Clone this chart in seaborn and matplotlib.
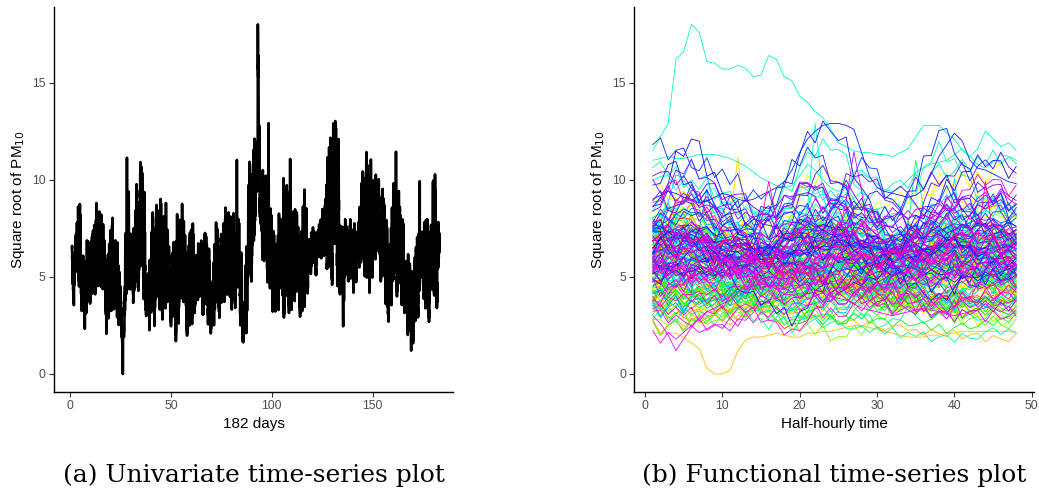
import colorsys
import numpy as np
import pandas as pd
import matplotlib
matplotlib.use("Agg")
import matplotlib.pyplot as plt
import seaborn as sns

# ---------------- data ----------------
n_days = 182
n_half = 48

# daily minimum / maximum of sqrt(PM10)
day_low = [
    3.7, 4.6, 4.9, 4.6, 3.6, 2.3, 2.4, 2.7, 3.8, 3.9,
    3.6, 4.2, 4.8, 5.0, 4.6, 4.0, 3.2, 2.3, 2.2, 3.3,
    3.6, 3.4, 3.0, 2.2, 1.8, 0.0, 2.5, 4.0, 4.6, 4.2,
    3.6, 4.1, 4.5, 4.8, 4.6, 4.0, 3.2, 2.8, 2.5, 2.6,
    2.7, 3.4, 3.3, 3.5, 3.2, 4.0, 3.4, 3.3, 2.9, 2.5,
    2.4, 1.8, 3.0, 3.6, 4.0, 3.2, 2.6, 2.2, 1.7, 2.7,
    3.4, 3.6, 3.9, 3.7, 3.2, 3.5, 3.0, 2.6, 2.3, 1.9,
    2.6, 3.2, 3.4, 3.1, 3.2, 3.8, 4.3, 4.6, 3.9, 3.0,
    3.6, 4.2, 3.8, 2.6, 1.8, 1.2, 2.4, 4.3, 5.0, 5.6,
    6.0, 6.4, 11.0, 6.2, 5.9, 5.4, 5.0, 4.8, 3.8, 3.3,
    3.5, 3.6, 3.4, 4.0, 3.6, 3.2, 3.1, 3.3, 3.8, 4.3,
    3.9, 3.8, 3.6, 3.2, 2.3, 3.0, 4.4, 5.0, 5.2, 5.5,
    5.2, 5.6, 5.8, 6.0, 6.2, 6.0, 5.3, 5.0, 4.9, 5.2,
    5.5, 4.7, 4.5, 3.6, 2.8, 4.6, 4.9, 5.0, 4.5, 4.3,
    4.9, 5.2, 5.5, 5.3, 5.6, 5.1, 4.1, 4.3, 5.4, 5.8,
    6.0, 5.9, 5.6, 5.0, 4.4, 3.7, 3.0, 3.0, 3.7, 4.3,
    4.6, 4.3, 4.0, 3.6, 3.4, 2.8, 2.1, 1.8, 1.2, 1.8,
    2.2, 3.0, 3.4, 3.6, 3.8, 3.0, 2.9, 3.6, 3.9, 4.2,
    3.7, 3.6,
]
day_high = [
    6.7, 7.0, 7.6, 8.7, 8.0, 7.2, 5.8, 6.9, 6.6, 6.9,
    7.2, 7.8, 8.6, 9.4, 8.3, 7.7, 6.9, 6.0, 6.4, 7.6,
    8.0, 7.9, 6.8, 5.2, 4.6, 4.2, 7.0, 10.6, 9.2, 8.0,
    7.4, 8.3, 9.8, 10.5, 10.4, 9.3, 7.2, 6.0, 5.9, 7.2,
    8.3, 8.4, 7.9, 8.6, 8.7, 9.2, 8.8, 7.4, 6.7, 6.0,
    6.5, 6.8, 8.0, 9.2, 8.8, 7.9, 6.8, 6.4, 7.0, 7.6,
    7.0, 6.9, 6.8, 6.6, 6.9, 7.1, 6.8, 6.4, 5.8, 5.6,
    6.7, 7.7, 7.6, 7.0, 6.9, 7.9, 8.4, 9.3, 8.0, 7.0,
    8.3, 10.9, 7.8, 6.2, 5.0, 4.6, 6.6, 9.6, 10.9, 11.2,
    11.8, 12.0, 18.0, 10.7, 10.5, 9.6, 10.4, 12.5, 8.2, 7.3,
    7.0, 7.6, 8.3, 8.0, 9.7, 8.6, 9.4, 9.0, 10.7, 9.6,
    8.6, 8.3, 7.6, 7.2, 8.2, 10.0, 8.5, 7.5, 7.3, 7.5,
    7.4, 7.3, 7.6, 8.0, 8.4, 9.8, 11.0, 11.5, 12.2, 12.9,
    12.7, 11.2, 11.9, 9.0, 7.6, 7.9, 7.6, 7.8, 7.3, 7.5,
    7.3, 7.9, 8.6, 9.8, 10.6, 11.0, 10.3, 9.8, 10.8, 11.2,
    10.3, 9.9, 9.7, 9.3, 8.8, 7.8, 7.3, 7.8, 8.7, 9.8,
    11.7, 9.2, 8.3, 7.9, 7.7, 6.7, 6.2, 5.6, 5.3, 5.8,
    6.3, 7.2, 10.5, 8.3, 7.7, 7.8, 8.0, 7.4, 9.6, 10.2,
    9.3, 9.3,
]

# typical intraday profiles (0 = daily low, 1 = daily high)
profile_morning = [0.35, 0.32, 0.30, 0.28, 0.25, 0.22, 0.20, 0.18, 0.17, 0.16,
                   0.18, 0.22, 0.28, 0.35, 0.45, 0.55, 0.65, 0.75, 0.85, 0.95,
                   1.0, 0.96, 0.90, 0.82, 0.74, 0.66, 0.60, 0.55, 0.50, 0.46,
                   0.42, 0.40, 0.38, 0.40, 0.44, 0.50, 0.56, 0.62, 0.66, 0.64,
                   0.60, 0.55, 0.50, 0.46, 0.42, 0.40, 0.38, 0.36]
profile_falling = [1.0, 0.95, 0.92, 0.88, 0.85, 0.82, 0.78, 0.80, 0.76, 0.72,
                   0.70, 0.66, 0.62, 0.60, 0.58, 0.55, 0.52, 0.50, 0.48, 0.50,
                   0.46, 0.42, 0.40, 0.38, 0.36, 0.34, 0.30, 0.28, 0.26, 0.25,
                   0.22, 0.20, 0.18, 0.20, 0.16, 0.14, 0.12, 0.10, 0.08, 0.10,
                   0.06, 0.05, 0.04, 0.03, 0.02, 0.01, 0.0, 0.02]
profile_rising = [0.05, 0.0, 0.04, 0.08, 0.06, 0.10, 0.12, 0.15, 0.14, 0.18,
                  0.22, 0.20, 0.25, 0.28, 0.32, 0.30, 0.35, 0.40, 0.44, 0.42,
                  0.48, 0.52, 0.50, 0.55, 0.58, 0.62, 0.60, 0.64, 0.68, 0.66,
                  0.70, 0.74, 0.72, 0.76, 0.80, 0.78, 0.82, 0.86, 0.84, 0.88,
                  0.92, 0.90, 0.94, 0.96, 0.98, 1.0, 0.97, 0.95]
profile_double = [0.30, 0.28, 0.26, 0.25, 0.24, 0.22, 0.20, 0.22, 0.24, 0.26,
                  0.25, 0.28, 0.30, 0.34, 0.38, 0.42, 0.48, 0.55, 0.65, 0.78,
                  0.90, 0.97, 1.0, 0.98, 0.95, 0.85, 0.70, 0.55, 0.45, 0.40,
                  0.38, 0.36, 0.40, 0.48, 0.60, 0.75, 0.88, 0.95, 0.92, 0.85,
                  0.75, 0.65, 0.58, 0.52, 0.48, 0.45, 0.42, 0.40]
profile_dip = [0.80, 0.85, 0.90, 0.88, 0.82, 0.78, 0.72, 0.68, 0.62, 0.55,
               0.50, 0.45, 0.40, 0.35, 0.30, 0.26, 0.22, 0.18, 0.15, 0.12,
               0.10, 0.08, 0.06, 0.05, 0.0, 0.04, 0.08, 0.12, 0.16, 0.20,
               0.25, 0.30, 0.36, 0.42, 0.48, 0.55, 0.62, 0.68, 0.74, 0.80,
               0.85, 0.90, 0.95, 1.0, 0.96, 0.92, 0.88, 0.85]
profile_early = [0.50, 0.62, 0.75, 0.88, 0.96, 1.0, 0.94, 0.85, 0.75, 0.66,
                 0.58, 0.52, 0.48, 0.45, 0.42, 0.40, 0.38, 0.36, 0.34, 0.32,
                 0.30, 0.28, 0.26, 0.24, 0.22, 0.20, 0.18, 0.16, 0.15, 0.14,
                 0.12, 0.10, 0.09, 0.08, 0.06, 0.05, 0.04, 0.03, 0.02, 0.0,
                 0.02, 0.04, 0.06, 0.08, 0.10, 0.12, 0.14, 0.16]
profile_wave = [0.40, 0.45, 0.52, 0.60, 0.66, 0.70, 0.68, 0.62, 0.55, 0.48,
                0.42, 0.36, 0.30, 0.25, 0.20, 0.15, 0.10, 0.05, 0.0, 0.06,
                0.14, 0.25, 0.38, 0.52, 0.66, 0.80, 0.92, 1.0, 0.95, 0.86,
                0.75, 0.64, 0.52, 0.42, 0.34, 0.28, 0.24, 0.22, 0.26, 0.32,
                0.40, 0.48, 0.56, 0.62, 0.66, 0.64, 0.60, 0.58]
profile_flat = [0.55, 0.60, 0.52, 0.48, 0.56, 0.62, 0.58, 0.50, 0.45, 0.52,
                0.60, 0.66, 0.58, 0.50, 0.44, 0.40, 0.48, 0.56, 0.64, 0.70,
                0.62, 0.54, 0.50, 0.58, 0.66, 0.72, 0.64, 0.56, 0.48, 0.42,
                0.38, 0.44, 0.52, 0.60, 0.55, 0.48, 0.44, 0.50, 0.58, 0.62,
                0.56, 0.50, 0.46, 0.52, 0.58, 0.54, 0.50, 0.52]
profiles = [profile_morning, profile_falling, profile_rising, profile_double,
            profile_dip, profile_early, profile_flat, profile_wave]

# days whose range comes from a short spike; value = half-hour of the spike
spike_position = {28: 12, 82: 35, 98: 22, 105: 40, 116: 8, 161: 27, 173: 16, 179: 44}
spike_base = [0.25, 0.28, 0.30, 0.26, 0.22, 0.20, 0.24, 0.28, 0.32, 0.30,
              0.26, 0.22, 0.18, 0.15, 0.12, 0.10, 0.14, 0.18, 0.22, 0.26,
              0.30, 0.34, 0.36, 0.38, 0.40, 0.42, 0.40, 0.38, 0.36, 0.34,
              0.32, 0.30, 0.28, 0.30, 0.33, 0.36, 0.38, 0.36, 0.34, 0.32,
              0.30, 0.28, 0.26, 0.28, 0.30, 0.32, 0.30, 0.28]
spike_shape = [0.55, 1.0, 0.6]

# short-scale wiggle read as typical half-hourly jitter
wiggle = [0.6, -0.4, 0.9, -0.8, 0.3, -0.2, 0.7, -0.9, 0.1, 0.5,
          -0.6, 0.8, -0.3, -0.7, 0.4, 0.9, -0.5, 0.2, -0.8, 0.6,
          0.0, -0.4, 0.7, -0.6, 0.3, 0.8, -0.9, 0.5, -0.1, -0.5,
          0.9, -0.7, 0.2, 0.4, -0.8, 0.6, -0.3, 0.1, 0.7, -0.6,
          0.5, -0.9, 0.3, 0.8, -0.4, -0.2, 0.6, -0.5]

# individually traced curves (day number -> 48 half-hourly values)
curve_day26 = [2.1, 2.1, 2.1, 2.1, 1.9, 1.6, 1.3, 0.3, 0.0, 0.0,
               0.2, 1.2, 1.75, 1.9, 1.9, 2.0, 2.1, 2.0, 1.9, 1.9,
               2.1, 2.1, 2.2, 2.2, 2.3, 2.4, 2.5, 2.5, 2.4, 2.3,
               2.2, 2.1, 2.0, 1.9, 1.9, 1.9, 2.0, 2.0, 2.1, 2.1,
               2.2, 2.2, 2.2, 2.2, 2.2, 2.2, 2.2, 2.2]
curve_day92 = [11.0, 11.1, 11.2, 11.1, 11.1, 11.2, 11.3, 11.3, 11.3, 11.2,
               11.1, 10.9, 10.7, 10.4, 10.1, 9.9, 9.7, 9.6, 9.7, 10.2,
               10.8, 10.5, 10.0, 9.6, 9.4, 9.6, 10.0, 10.3, 10.1, 9.8,
               9.5, 9.4, 9.6, 10.0, 10.4, 10.6, 10.8, 10.9, 11.0, 11.3,
               11.6, 11.2, 10.8, 10.6, 10.9, 11.3, 11.2, 11.0]
curve_day93 = [11.5, 12.2, 12.9, 16.2, 16.6, 18.0, 17.6, 16.1, 16.0, 15.7,
               15.7, 15.9, 15.75, 15.3, 15.4, 16.4, 16.2, 15.3, 15.1, 14.3,
               14.0, 13.5, 13.2, 12.6, 11.9, 11.7, 11.5, 11.4, 11.4, 11.3,
               11.3, 11.2, 11.4, 11.6, 12.2, 12.8, 12.8, 12.8, 12.4, 12.1,
               11.5, 11.2, 11.6, 12.5, 12.1, 11.7, 11.9, 11.5]
curve_day130 = [9.0, 9.2, 9.4, 9.3, 9.1, 9.0, 8.8, 8.9, 9.1, 9.3,
                9.2, 9.0, 8.9, 9.0, 9.2, 9.4, 9.6, 9.9, 10.5, 11.4,
                12.1, 12.5, 12.8, 12.9, 12.9, 12.8, 12.6, 11.4, 10.2, 9.6,
                9.4, 9.3, 9.2, 9.1, 9.2, 9.5, 10.3, 11.2, 11.8, 12.4,
                12.0, 11.0, 10.6, 10.5, 10.3, 10.1, 9.9, 9.8]
curve_day169 = [3.0, 2.6, 2.0, 1.2, 1.8, 2.4, 2.9, 3.2, 3.4, 3.6,
                3.8, 4.2, 4.6, 5.0, 5.3, 5.2, 5.0, 4.8, 4.6, 4.5,
                4.4, 4.3, 4.2, 4.0, 3.9, 3.8, 3.6, 3.4, 3.3, 3.2,
                3.1, 3.0, 3.1, 3.2, 3.3, 3.4, 3.3, 3.2, 3.1, 3.0,
                3.1, 3.2, 3.3, 3.4, 3.5, 3.6, 3.7, 3.8]
traced_curves = {26: curve_day26, 92: curve_day92, 93: curve_day93,
                 130: curve_day130, 169: curve_day169}

# ---------------- assemble the long table ----------------
rows = []
for d in range(1, n_days + 1):
    lo, hi = day_low[d - 1], day_high[d - 1]
    if d in traced_curves:
        vals = list(traced_curves[d])
    else:
        if d in spike_position:
            prof = list(spike_base)
            p = spike_position[d] - 1
            for k, s in zip((p - 1, p, p + 1), spike_shape):
                prof[k] = s
        else:
            prof = profiles[d % len(profiles)]
        shift = (d * 7) % n_half
        jit = wiggle[shift:] + wiggle[:shift]
        vals = [lo + (hi - lo) * (pr + 0.09 * j) for pr, j in zip(prof, jit)]
    for t in range(1, n_half + 1):
        rows.append((d, t, vals[t - 1]))
df = pd.DataFrame(rows, columns=["day", "half_hour", "value"])
df["time"] = df["day"] + (df["half_hour"] - 1) / n_half
df["day_label"] = df["day"].map(lambda d: f"d{d:03d}")

day_labels = [f"d{d:03d}" for d in range(1, n_days + 1)]
palette = {lab: colorsys.hsv_to_rgb((d - 1) / 200.0, 1.0, 1.0)
           for d, lab in zip(range(1, n_days + 1), day_labels)}

# ---------------- plot ----------------
sns.set_theme(style="ticks")
plt.rcParams["font.family"] = ["Liberation Sans", "DejaVu Sans"]

fig = plt.figure(figsize=(10.39, 4.95), dpi=100)
ax1 = fig.add_axes([0.052, 0.208, 0.384, 0.778])
ax2 = fig.add_axes([0.6105, 0.208, 0.3845, 0.778])

sns.lineplot(data=df, x="time", y="value", ax=ax1, color="black",
             linewidth=1.9, estimator=None, sort=False)

sns.lineplot(data=df, x="half_hour", y="value", hue="day_label",
             hue_order=day_labels, palette=palette, units="day_label",
             estimator=None, legend=False, linewidth=0.6, ax=ax2)

ylabel = "Square root of PM$_{10}$"
for ax, xlab, xlim, xticks in [
    (ax1, "182 days", (-7.9, 189.8), [0, 50, 100, 150]),
    (ax2, "Half-hourly time", (-1.38, 50.26), [0, 10, 20, 30, 40, 50]),
]:
    ax.set_xlim(*xlim)
    ax.set_ylim(-0.93, 18.9)
    ax.set_xticks(xticks)
    ax.set_yticks([0, 5, 10, 15])
    ax.set_xlabel(xlab, fontsize=11, color="black", labelpad=3)
    ax.set_ylabel(ylabel, fontsize=11, color="black", labelpad=4)
    for s in ["top", "right"]:
        ax.spines[s].set_visible(False)
    for s in ["left", "bottom"]:
        ax.spines[s].set_color("black")
        ax.spines[s].set_linewidth(1.0)
    ax.tick_params(axis="both", length=3.5, width=0.8, color="#333333",
                   labelsize=8.8, labelcolor="#4D4D4D", pad=2.5)

fig.text(0.244, 1 - 482 / 495, "(a) Univariate time-series plot",
         ha="center", va="baseline", fontsize=18, family="DejaVu Serif",
         color="black")
fig.text(0.8025, 1 - 482 / 495, "(b) Functional time-series plot",
         ha="center", va="baseline", fontsize=18, family="DejaVu Serif",
         color="black")

fig.savefig("out.png", dpi=100)
